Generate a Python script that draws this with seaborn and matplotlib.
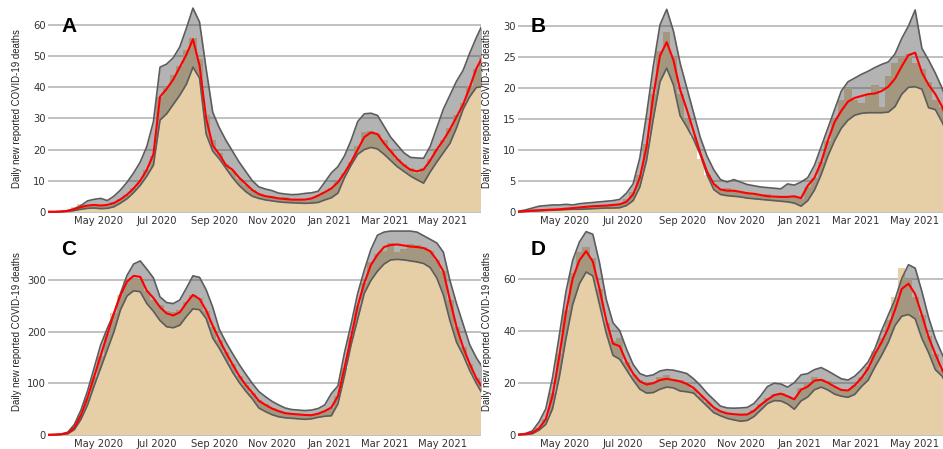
import matplotlib
matplotlib.use("Agg")
import matplotlib.pyplot as plt
import matplotlib.dates as mdates
import pandas as pd
import seaborn as sns

# ---------------- data (weekly samples) ----------------
first_week = "2020-03-08"

A_lo = [0, 0, 0, 0.1, 0.4, 0.8, 1.1, 1.2, 1.0, 1.1, 1.6, 2.8, 4.2, 6.2, 8.5, 11.5, 15, 29.5, 31.5, 34.5,
        37.5, 41, 46.5, 43, 25, 19.5, 17, 14, 11, 8.5, 6.5, 5, 4.3, 3.8, 3.5, 3.2, 3.0, 2.9, 2.8, 2.7,
        2.8, 3.0, 3.8, 4.5, 6, 11, 15, 18.5, 20, 20.7, 20.2, 18.5, 16.5, 14.5, 13, 11.5, 10.3, 9.2, 12.8, 16,
        19, 22, 27, 33, 37, 40, 40.2]
A_med = [0, 0, 0.1, 0.3, 0.8, 1.5, 2.0, 2.2, 2.0, 2.2, 2.8, 4.0, 5.5, 7.5, 10.0, 13.5, 18.5, 37, 39.5, 42.5,
         46.5, 50.5, 55.5, 47, 30, 21.3, 18.5, 15, 13.5, 11, 9, 7, 5.7, 5.0, 4.7, 4.3, 4.1, 3.9, 3.9, 3.9,
         4.3, 5.2, 6.3, 7.5, 9.5, 12.5, 16, 20, 24, 25.5, 25, 22, 19.5, 17, 15, 13.5, 13.0, 13.6, 16.5, 20,
         23, 26.5, 30.5, 34.5, 40, 46, 50]
A_hi = [0, 0, 0.1, 0.4, 1.0, 2.0, 3.5, 4.0, 4.3, 3.6, 5.0, 7.0, 9.5, 12.5, 16, 21, 29, 46.5, 47.5, 49.5,
        53, 59, 65.5, 61, 46, 32, 27, 23, 19.5, 16, 13, 10, 8, 7.3, 6.8, 6.0, 5.7, 5.5, 5.6, 5.9,
        6.1, 6.6, 9.5, 12.5, 14.5, 18, 23, 29, 31.5, 31.7, 31, 27.5, 24, 21.5, 19, 17.5, 17.3, 17.2, 21, 27,
        33, 37.5, 42, 45.5, 51, 56, 60.5]
A_bar = [0, 0, 0, 0.3, 1.5, 2.5, 2.0, 2.5, 2.2, 2.0, 3.0, 4.2, 5.5, 7.5, 10, 13.5, 18, 37, 40, 44,
         47, 52, 56, 49, 31, 23, 19, 15.5, 13, 10.5, 8.5, 7, 5.8, 5.0, 4.8, 4.3, 4.8, 4.0, 3.9, 3.6,
         4.5, 5.2, 6.3, 7.5, 9.5, 12.5, 16, 21, 25.5, 26, 25, 23, 20, 17, 15.5, 14, 12.5, 14, 17, 20,
         23, 27, 31, 35, 40, 46, 50]

B_lo = [0, 0, 0.05, 0.1, 0.15, 0.2, 0.25, 0.3, 0.35, 0.4, 0.4, 0.45, 0.5, 0.55, 0.6, 0.6, 0.65, 1.0, 1.8, 4,
        8.3, 15, 21, 23.2, 20.5, 15.5, 13.7, 11.7, 9.2, 6, 3.6, 2.8, 2.6, 2.5, 2.4, 2.2, 2.1, 2.0, 1.9, 1.8,
        1.7, 1.6, 1.4, 0.9, 1.8, 3.5, 6, 9, 11.5, 13.5, 14.8, 15.6, 15.9, 16, 16, 16, 16.1, 17, 19, 20.1,
        20.2, 19.8, 16.8, 16.5, 14.5, 12, 10]
B_med = [0, 0, 0.1, 0.2, 0.25, 0.3, 0.35, 0.4, 0.5, 0.6, 0.7, 0.8, 0.9, 0.95, 1.0, 1.1, 1.2, 1.6, 2.8, 5.5,
         10.5, 18.7, 25.2, 27.4, 24.5, 19.7, 16.5, 13, 9.5, 6.5, 4.5, 3.6, 3.4, 3.4, 3.2, 3.0, 2.9, 2.7, 2.5, 2.45,
         2.4, 2.4, 2.5, 2.2, 4.2, 5.5, 8, 11.5, 14.5, 16.3, 17.8, 18.4, 18.7, 19, 19.1, 19.5, 20.2, 21.5, 23.5, 25.3,
         25.7, 22.5, 20.5, 19, 17, 14, 12]
B_hi = [0, 0.1, 0.3, 0.6, 0.9, 1.0, 1.1, 1.1, 1.2, 1.1, 1.3, 1.4, 1.5, 1.6, 1.7, 1.8, 2.0, 3.0, 4.5, 8.7,
        15.7, 23.5, 30.2, 32.7, 29.2, 24, 20, 16, 12, 9, 6.8, 5.2, 4.8, 5.2, 4.8, 4.4, 4.2, 4.0, 3.9, 3.8,
        3.7, 4.5, 4.3, 4.8, 5.5, 7.5, 10.5, 13.5, 16.5, 19.5, 21, 21.6, 22.2, 22.7, 23.3, 23.8, 24.2, 25.5, 28, 30,
        32.6, 26.4, 24.5, 22.4, 20, 17, 14]
B_bar = [0, 0, 0.1, 0.2, 0.3, 0.4, 0.3, 0.5, 0.5, 0.6, 0.7, 0.8, 0.9, 1.0, 1.0, 1.1, 1.3, 2.0, 3.2, 6,
         11, 19, 26, 29, 25, 19, 15, 12, 8.5, 6, 4.5, 3.6, 3.8, 3.3, 3.0, 3.1, 2.7, 2.6, 2.8, 2.3,
         2.5, 2.3, 2.4, 2.0, 4, 5.5, 8, 11.5, 15, 18, 20, 18, 17.5, 19, 20.5, 17, 22, 24, 25, 25.5,
         24, 23, 21, 18, 17, 14, 12]

C_lo = [0, 0.1, 0.5, 2, 10, 30, 58, 95, 130, 165, 200, 243, 270, 280, 278, 255, 240, 222, 210, 208,
        213, 230, 245, 243, 226, 188, 168, 145, 122, 102, 85, 70, 52, 45, 39, 35, 33, 32, 31, 30,
        31, 34, 36, 37, 60, 115, 175, 225, 275, 300, 318, 332, 340, 341, 340, 338, 336, 333, 325, 305,
        272, 222, 180, 155, 125, 100, 78]
C_med = [0, 0.2, 1, 3, 14, 38, 72, 113, 154, 195, 236, 271, 298, 309, 307, 280, 266, 248, 236, 232,
         238, 256, 272, 264, 242, 212, 185, 160, 137, 115, 97, 82, 66, 58, 51, 46, 42, 40.5, 39.5, 38.5,
         38, 41, 46, 53, 75, 130, 190, 250, 295, 330, 350, 365, 369, 370, 368, 366, 365, 363, 357, 340,
         318, 262, 210, 170, 138, 110, 90]
C_hi = [0, 0.3, 1.5, 5, 20, 48, 85, 130, 175, 207, 236, 275, 310, 332, 338, 322, 305, 268, 257, 255,
        262, 285, 309, 306, 282, 248, 205, 180, 158, 137, 118, 100, 84, 74, 65, 58, 52, 49, 48, 47,
        48, 51, 58, 80, 95, 160, 215, 275, 320, 360, 388, 394, 396, 396, 396, 396, 394, 387, 380, 373,
        355, 300, 255, 215, 175, 150, 130]
C_bar = [0, 0.2, 1, 3, 14, 38, 72, 113, 154, 195, 236, 271, 300, 305, 300, 280, 262, 252, 240, 238,
         243, 258, 272, 265, 240, 210, 185, 160, 137, 115, 97, 82, 68, 60, 52, 46, 42, 40.5, 39.5, 38.5,
         38, 41, 46, 53, 75, 130, 190, 250, 295, 335, 352, 358, 372, 355, 362, 370, 368, 365, 357, 340,
         318, 262, 210, 170, 138, 110, 90]

D_lo = [0, 0, 0.1, 0.4, 1.8, 4, 10, 22, 37, 50, 58, 62.5, 61, 50, 39, 30.5, 29, 25, 21, 17.5,
        16, 16.2, 17.5, 18.3, 18, 16.8, 16.5, 16, 13.5, 11, 8.5, 7.3, 6.3, 5.7, 5.2, 5.5, 7.0, 9.5, 12, 13.1,
        13, 11.8, 9.8, 13, 14.5, 17.3, 18.3, 17.2, 15.6, 14.8, 14.4, 15.5, 18.5, 21, 26, 30.5, 35.5, 42, 45.5, 46.2,
        44.5, 37, 31.5, 25, 22.5, 18, 15]
D_med = [0, 0.1, 0.3, 0.8, 2.5, 6, 15, 30, 47, 60, 67, 70.5, 66.5, 56, 44, 35, 34, 28, 23.5, 20.5,
         19.3, 19.8, 21, 21.5, 21, 20.5, 19.5, 18, 15.5, 13, 10.5, 9, 8.2, 7.9, 7.7, 7.8, 9.2, 11.5, 13.5, 15.2,
         15.8, 14.8, 13.6, 17.3, 18.5, 20.8, 21.1, 20.0, 18.5, 17.2, 17.0, 19, 21.8, 25.5, 31, 35.5, 41, 48, 56, 58,
         54, 46, 37.5, 31, 25, 20, 16]
D_hi = [0, 0.1, 0.5, 1.5, 5, 10, 22, 38, 55, 67, 74, 78, 77, 66, 52, 43, 40, 33, 27, 23.5,
        22.5, 23, 24.5, 25, 24.8, 24.2, 23.5, 21.5, 19, 16, 13.5, 11, 10.3, 10.2, 10.3, 10.5, 12, 15, 18.5, 19.8,
        19.5, 18.3, 20, 23, 23.5, 25, 25.8, 24.5, 23, 21.5, 21, 22.5, 25, 28, 33, 40, 46, 52, 60, 65.3,
        64, 55, 45, 37, 31, 26, 21]
D_bar = [0, 0.1, 0.3, 0.8, 2.5, 6, 16, 31, 48, 62, 70, 72, 68, 56, 43, 36, 37, 28, 23, 21,
         19.5, 20, 22, 23, 21.5, 21, 20, 17.5, 15, 12.5, 10, 9, 8.5, 8, 7.5, 7.8, 9.5, 12, 14, 15.5,
         16, 14.8, 14, 18, 19.5, 22, 21.5, 20.5, 18.5, 17.5, 17, 19, 22, 26, 32, 37, 44, 53, 64, 60,
         53, 46, 38, 31, 25, 20, 16]

panel_letters = ["A", "B", "C", "D"]
y_ticks = {"A": [0, 10, 20, 30, 40, 50, 60], "B": [0, 5, 10, 15, 20, 25, 30],
           "C": [0, 100, 200, 300], "D": [0, 20, 40, 60]}
y_top = {"A": 66.5, "B": 33.4, "C": 402, "D": 79.4}
x_ranges = {"A": ("2020-03-08", "2021-06-11"), "B": ("2020-03-14", "2021-05-31"),
            "C": ("2020-03-08", "2021-06-11"), "D": ("2020-03-14", "2021-05-31")}
x_tick_dates = ["2020-05-01", "2020-07-01", "2020-09-01", "2020-11-01",
                "2021-01-01", "2021-03-01", "2021-05-01"]
y_label = "Daily new reported COVID-19 deaths"

series = {"A": (A_lo, A_med, A_hi, A_bar), "B": (B_lo, B_med, B_hi, B_bar),
          "C": (C_lo, C_med, C_hi, C_bar), "D": (D_lo, D_med, D_hi, D_bar)}

# ---------------- style ----------------
sns.set_theme(style="white")
plt.rcParams["font.family"] = ["DejaVu Sans"]

TAN = "#E6CFA7"
BAND = "#4a4a4a"
EDGE = "#5c5c5c"
GRID = "#bcbcbc"

W, H = 943, 449
fig = plt.figure(figsize=(W / 100, H / 100), dpi=100)

boxes = {"A": (48, 5, 481, 213), "B": (518, 5, 943, 213),
         "C": (48, 228, 481, 436), "D": (518, 228, 943, 436)}

for key in panel_letters:
    l, t, r, b = boxes[key]
    ax = fig.add_axes([l / W, 1 - b / H, (r - l) / W, (b - t) / H])
    lo, med, hi, bars = series[key]
    n = len(med)
    df = pd.DataFrame({
        "date": pd.date_range(first_week, periods=n, freq="7D"),
        "lo": lo, "med": med, "hi": hi, "bar": bars,
    })
    ax.set_axisbelow(True)
    for yt in y_ticks[key]:
        ax.axhline(yt, color=GRID, lw=1.3, zorder=0)
    ax.bar(df["date"], df["bar"], width=7.6, color=TAN, linewidth=0, zorder=1,
           antialiased=False)
    ax.fill_between(df["date"], df["lo"], df["hi"], color=BAND, alpha=0.42,
                    linewidth=0, zorder=2)
    sns.lineplot(data=df, x="date", y="hi", ax=ax, color=EDGE, lw=1.2, zorder=3)
    sns.lineplot(data=df, x="date", y="lo", ax=ax, color=EDGE, lw=1.2, zorder=3)
    sns.lineplot(data=df, x="date", y="med", ax=ax, color="#ff0000", lw=1.5, zorder=4)

    x0, x1 = x_ranges[key]
    ax.set_xlim(pd.Timestamp(x0), pd.Timestamp(x1))
    ax.set_ylim(-0.006 * y_top[key], y_top[key])
    ax.set_yticks(y_ticks[key])
    ax.set_xticks([pd.Timestamp(d) for d in x_tick_dates])
    ax.xaxis.set_major_formatter(mdates.DateFormatter("%b %Y"))
    ax.tick_params(axis="both", length=0, labelsize=7.2, colors="#333333")
    ax.tick_params(axis="y", pad=1.5)
    ax.tick_params(axis="x", pad=2.5)
    ax.set_xlabel("")
    ax.set_ylabel("")
    for s in ax.spines.values():
        s.set_visible(False)

    # panel letter and y label
    fig.text((l + 13) / W, 1 - (t + 27) / H, key, fontsize=15, fontweight="bold",
             family=["Liberation Sans", "DejaVu Sans"], ha="left", va="baseline", color="black")
    fig.text((l - 31) / W, 1 - ((t + b) / 2) / H, y_label, rotation=90, fontsize=6.9,
             family=["Liberation Sans", "DejaVu Sans"], ha="center", va="center", color="#222222")

fig.savefig("out.png", dpi=100)
